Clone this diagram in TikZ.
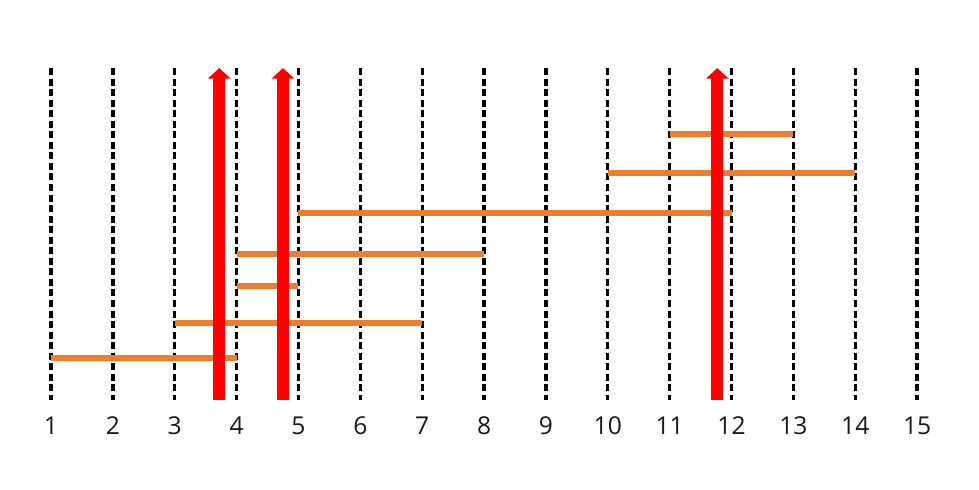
\documentclass[tikz,border=0pt]{standalone}
\usepackage{fontspec}
\setmainfont{Open Sans}
\usepackage{xcolor}
\usetikzlibrary{arrows.meta}
\definecolor{barorange}{RGB}{237,125,49}
\tikzset{>=stealth,
  grid/.style={line width=1.9pt,black,dash pattern=on 4pt off 2pt},
  bar/.style={line width=3.4pt,barorange},
  cut/.style={line width=6.8pt,red,-{Triangle[width=12.5pt,length=6pt]}},
  tick/.style={font=\fontsize{14}{16}\selectfont,text=black!90,anchor=base,inner sep=0pt}}

\begin{document}
\begin{tikzpicture}[x=1.2372cm,y=-0.02cm,xshift=-0.2172cm]
       \useasboundingbox (0.1756,0) rectangle (16.0,489);
       \foreach \i in {1,...,15}{
         \draw[grid] (\i,68)--(\i,400);
         \node[tick] at (\i,434) (l\i) {\i};
       }
       % intervals
       \draw[bar] (1,358)--(4,358);
       \draw[bar] (3,323)--(7,323);
       \draw[bar] (4,286)--(5,286);
       \draw[bar] (4,254)--(8,254);
       \draw[bar] (5,213)--(12,213);
       \draw[bar] (10,173)--(14,173);
       \draw[bar] (11,134)--(13,134);
       % cut points
       \draw[cut] (3.72,400)--(3.72,68);
       \draw[cut] (4.75,400)--(4.75,68);
       \draw[cut] (11.77,400)--(11.77,68);
\end{tikzpicture}
\end{document}
